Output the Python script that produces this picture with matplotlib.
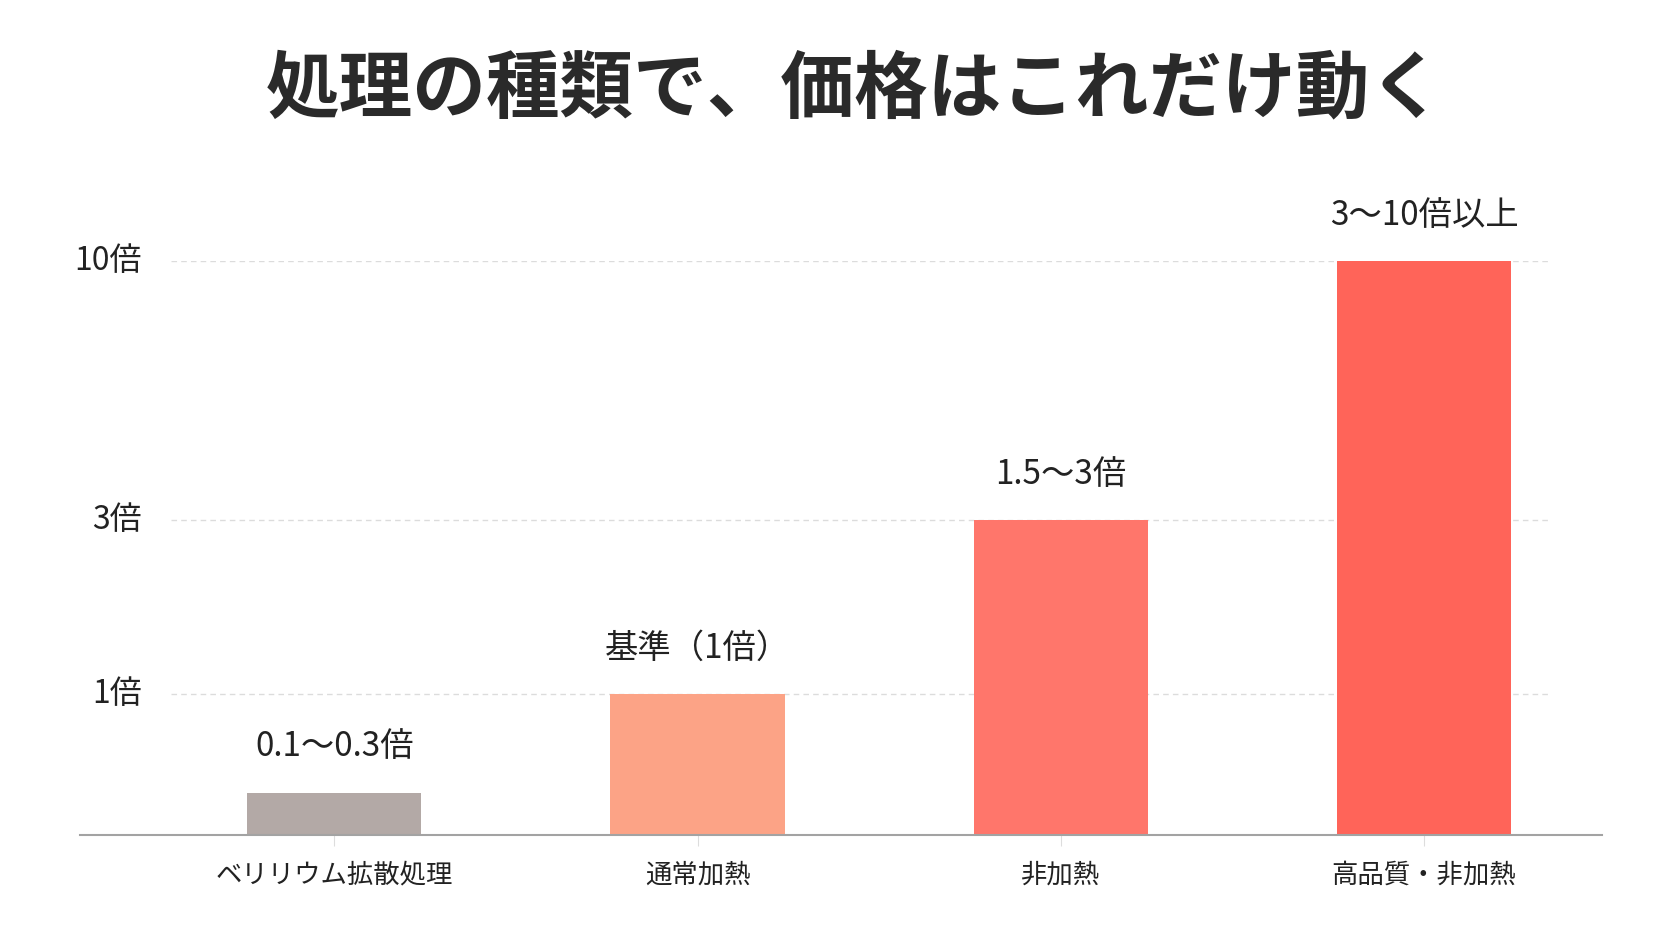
import numpy as np
import matplotlib
matplotlib.use("Agg")
import matplotlib.pyplot as plt
import matplotlib.transforms as mtransforms

plt.rcParams['font.family'] = ['Noto Sans CJK JP', 'DejaVu Sans']

# data
categories = ['ベリリウム拡散処理', '通常加熱', '非加熱', '高品質・非加熱']
values = [0.3, 1, 3, 10]
value_labels = ['0.1〜0.3倍', '基準（1倍）', '1.5〜3倍', '3〜10倍以上']
colors = ['#B3A9A6', '#FCA386', '#FF766B', '#FF6459']
ytick_vals = [1, 3, 10]
ytick_labels = ['1倍', '3倍', '10倍']

# the value axis is stretched piecewise: 0-1, 1-3, 3-10 get their own spans
scale_in = [0, 1, 3, 10, 100]
scale_out = [0, 1, 2.234, 4.07, 4.07 + 90 * 0.262]

def fwd(y):
    return np.interp(y, scale_in, scale_out)

def inv(y):
    return np.interp(y, scale_out, scale_in)

W, H = 1672, 941
fig = plt.figure(figsize=(W / 100, H / 100), dpi=100)
fig.patch.set_facecolor('white')
ax = fig.add_axes([80 / W, 106 / H, 1522 / W, 574 / H])
ax.set_yscale('function', functions=(fwd, inv))
ax.set_ylim(0, 10)
ax.set_xlim(-0.70, 3.49)

x = np.arange(len(categories))
ax.bar(x, values, width=0.48, color=colors, zorder=2)

# dashed guide lines
ax.hlines(ytick_vals, -0.45, 3.35, colors='#dcdcdc', linestyles=(0, (4, 3)),
          linewidth=1.0, zorder=1)

# y labels sit inside the axes area, right of the baseline start
trans = mtransforms.blended_transform_factory(ax.transData, ax.transData)
for v, lab in zip(ytick_vals, ytick_labels):
    ax.text(-0.53, v, lab, ha='right', va='center', fontsize=23,
            color='#222222', transform=trans)

# value labels above bars
for xi, v, lab in zip(x, values, value_labels):
    ax.annotate(lab, (xi, v), xytext=(0, 33), textcoords='offset points',
                ha='center', va='center', fontsize=24, color='#222222',
                annotation_clip=False)

ax.set_yticks([])
ax.set_xticks(x)
ax.set_xticklabels(categories, fontsize=19, color='#222222')
ax.tick_params(axis='x', length=8, width=0.8, color='#dddddd', pad=11)
for s in ['top', 'right', 'left']:
    ax.spines[s].set_visible(False)
ax.spines['bottom'].set_color('#a3a3a3')
ax.spines['bottom'].set_linewidth(1.5)
ax.set_facecolor('none')

fig.text(0.511, 1 - 90 / H, '処理の種類で、価格はこれだけ動く', ha='center', va='center',
         fontsize=53, fontweight='bold', color='#2a2a2a')

fig.savefig('out.png', dpi=100, facecolor='white')
